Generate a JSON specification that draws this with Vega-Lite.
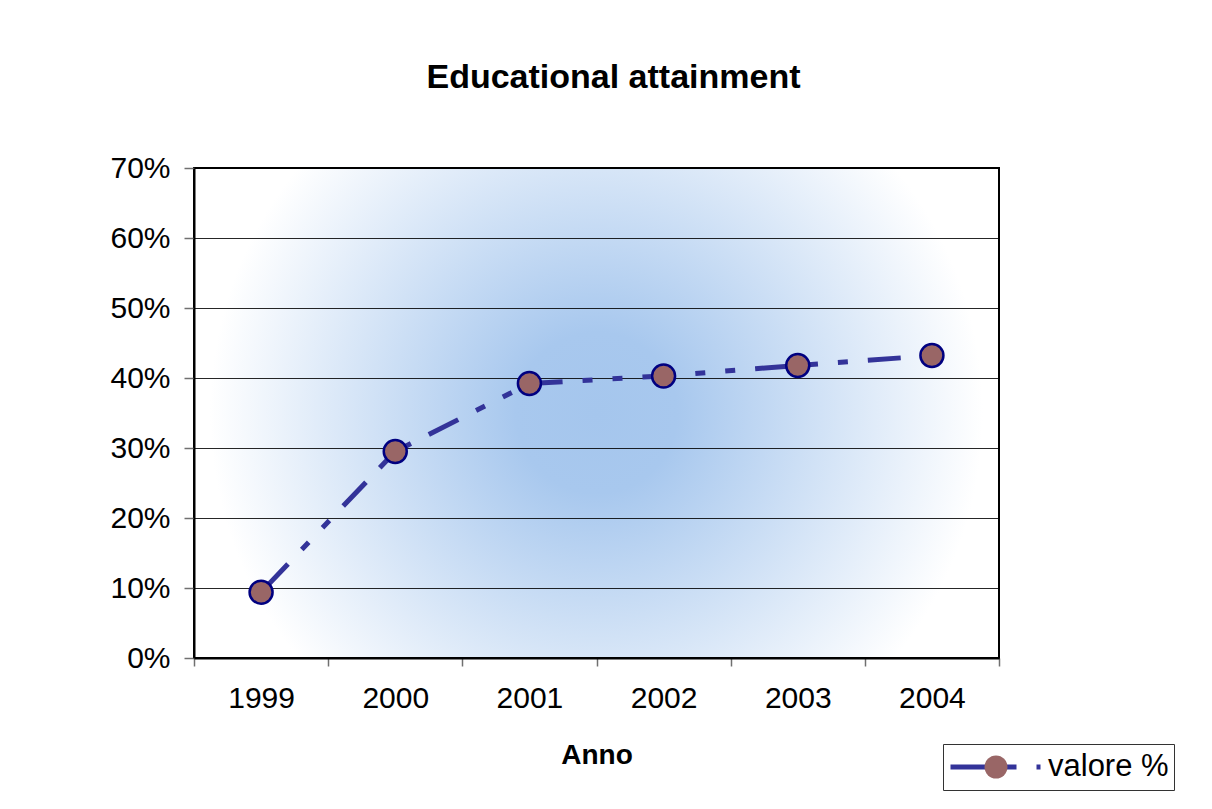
{
  "$schema": "https://vega.github.io/schema/vega-lite/v6.json",
  "width": 805,
  "height": 490,
  "autosize": {"type": "none"},
  "padding": {"left": 194, "top": 168, "right": 213, "bottom": 151},
  "background": "white",
  "title": {
    "text": "Educational attainment",
    "font": "Liberation Sans",
    "fontSize": 34,
    "fontWeight": "bold",
    "color": "#000000",
    "anchor": "middle",
    "frame": "group",
    "dx": 17,
    "baseline": "alphabetic",
    "offset": 31
  },
  "data": {
    "values": [
      {"Anno": "1999", "valore": 0.094},
      {"Anno": "2000", "valore": 0.295},
      {"Anno": "2001", "valore": 0.392},
      {"Anno": "2002", "valore": 0.403},
      {"Anno": "2003", "valore": 0.418},
      {"Anno": "2004", "valore": 0.432}
    ]
  },
  "layer": [
    {
      "mark": {
        "type": "line",
        "strokeWidth": 5,
        "strokeDash": [33, 20, 10, 20, 10, 20],
        "strokeDashOffset": 107,
        "strokeCap": "butt"
      },
      "encoding": {
        "x": {
          "field": "Anno",
          "type": "ordinal",
          "scale": {"type": "band", "paddingInner": 0, "paddingOuter": 0},
          "axis": {
            "title": "Anno",
            "titleFont": "Liberation Sans",
            "titleFontSize": 28,
            "titleFontWeight": "bold",
            "titleColor": "#000000",
            "titlePadding": 28,
            "labelFont": "Liberation Sans",
            "labelFontSize": 30,
            "labelColor": "#000000",
            "labelAngle": 0,
            "labelPadding": 17,
            "tickBand": "extent",
            "tickSize": 8,
            "tickColor": "#707070",
            "tickWidth": 1.5,
            "domainColor": "#000000",
            "domainWidth": 2,
            "grid": false
          }
        },
        "y": {
          "field": "valore",
          "type": "quantitative",
          "scale": {"domain": [0, 0.7], "nice": false},
          "axis": {
            "title": null,
            "values": [0, 0.1, 0.2, 0.3, 0.4, 0.5, 0.6, 0.7],
            "format": ".0%",
            "labelFont": "Liberation Sans",
            "labelFontSize": 30,
            "labelColor": "#000000",
            "labelPadding": 14,
            "tickSize": 10,
            "tickColor": "#707070",
            "tickWidth": 1.5,
            "domainColor": "#000000",
            "domainWidth": 2,
            "grid": true,
            "gridColor": "#000000",
            "gridWidth": 1,
            "gridOpacity": 0.85
          }
        },
        "stroke": {
          "datum": "valore %",
          "scale": {"range": ["#333399"]},
          "legend": {
            "orient": "none",
            "legendX": 749,
            "legendY": 576,
            "title": null,
            "symbolType": "stroke",
            "symbolSize": 8100,
            "symbolStrokeWidth": 5,
            "symbolDash": [66, 20, 4, 20],
            "clipHeight": 36,
            "padding": 5,
            "strokeColor": "#333333",
            "fillColor": "#ffffff",
            "labelFont": "Liberation Sans",
            "labelFontSize": 31,
            "labelColor": "#000000",
            "labelOffset": 5,
            "labelLimit": 300,
            "encoding": {
              "symbols": {
                "update": {
                  "strokeDash": {"value": [66, 20, 4, 20]},
                  "strokeWidth": {"value": 5},
                  "stroke": {"value": "#333399"}
                }
              }
            }
          }
        }
      }
    },
    {
      "mark": {
        "type": "point",
        "filled": true,
        "fill": "#996666",
        "stroke": "#000080",
        "strokeWidth": 2.5,
        "size": 529,
        "opacity": 1
      },
      "encoding": {
        "x": {"field": "Anno", "type": "ordinal"},
        "y": {"field": "valore", "type": "quantitative"},
        "shape": {
          "datum": "punto",
          "scale": {"range": ["circle"]},
          "legend": {
            "orient": "none",
            "legendX": 787,
            "legendY": 581,
            "title": null,
            "symbolSize": 529,
            "symbolFillColor": "#996666",
            "symbolStrokeColor": "#000080",
            "symbolStrokeWidth": 2.5,
            "clipHeight": 36,
            "padding": 0,
            "labelFontSize": 30,
            "labelExpr": "''",
            "encoding": {
              "symbols": {
                "update": {
                  "fill": {"value": "#996666"},
                  "stroke": {"value": "#000080"},
                  "strokeWidth": {"value": 2.5},
                  "opacity": {"value": 1}
                }
              }
            }
          }
        }
      }
    }
  ],
  "config": {
    "view": {
      "stroke": "#000000",
      "strokeWidth": 2,
      "fill": {
        "gradient": "radial",
        "x1": 0.5, "y1": 0.5, "r1": 0,
        "x2": 0.5, "y2": 0.5, "r2": 0.5,
        "stops": [
          {"offset": 0, "color": "#a5c6ed"},
          {"offset": 0.2, "color": "#a8c8ee"},
          {"offset": 0.96, "color": "#ffffff"}
        ]
      }
    }
  }
}
